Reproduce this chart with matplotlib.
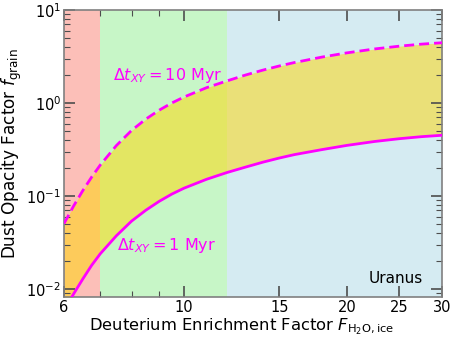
import numpy as np
import matplotlib
matplotlib.use("Agg")
from matplotlib import pyplot as plt
from matplotlib.ticker import FixedLocator, NullFormatter, LogLocator

# deuterium enrichment factor grid
F = [6.0, 6.25, 6.5, 6.75, 7.0, 7.5, 8.0, 8.5, 9.0, 9.5, 10.0, 11.0, 12.0,
     13.0, 14.0, 15.0, 16.0, 18.0, 20.0, 22.5, 25.0, 27.5, 30.0]
# f_grain
f_10myr = [0.0505, 0.078, 0.1143, 0.160, 0.215, 0.349, 0.507, 0.671, 0.838,
           1.002, 1.159, 1.459, 1.726, 2.000, 2.259, 2.500, 2.723, 3.119,
           3.459, 3.811, 4.083, 4.295, 4.446]
f_1myr = [0.00579, 0.00885, 0.01282, 0.01799, 0.02388, 0.0374, 0.0537, 0.0703,
          0.0877, 0.105, 0.1213, 0.151, 0.1786, 0.2046, 0.2312, 0.2559, 0.2786,
          0.3155, 0.3499, 0.3855, 0.4130, 0.4345, 0.4498]

# shaded F ranges
spans = [(6, 7, 'salmon'), (7, 12, 'lightgreen'), (12, 30, 'lightblue')]
xticks = [6, 10, 15, 20, 25, 30]
xminor = [7, 8, 9]

fig = plt.figure(figsize=(4.52, 3.39), dpi=100)
ax = fig.add_axes([0.1416, 0.1239, 0.8364, 0.8466])

for lo, hi, c in spans:
    ax.axvspan(lo, hi, color=c, alpha=0.5, lw=0, zorder=0)

ax.fill_between(F, f_1myr, f_10myr, color='gold', alpha=0.5, lw=0, zorder=1)
ax.plot(F, f_10myr, color='magenta', lw=2, ls='--', dashes=(3.6, 1.8), zorder=3)
ax.plot(F, f_1myr, color='magenta', lw=2, zorder=3)

ax.set_xscale('log')
ax.set_yscale('log')
ax.set_xlim(6, 30)
ax.set_ylim(0.0082, 10)

ax.xaxis.set_major_locator(FixedLocator(xticks))
ax.set_xticklabels([str(t) for t in xticks])
ax.xaxis.set_minor_locator(FixedLocator(xminor))
ax.xaxis.set_minor_formatter(NullFormatter())
ax.yaxis.set_major_locator(LogLocator(base=10))
ax.yaxis.set_minor_locator(LogLocator(base=10, subs=np.arange(2, 10)))

ax.tick_params(which='both', direction='in', top=True, right=True,
               color='0.3', labelsize=10.5, pad=2)
ax.tick_params(which='major', length=8, width=1.2)
ax.tick_params(which='minor', length=4, width=0.8)
for s in ax.spines.values():
    s.set_color('0.5')
    s.set_linewidth(1.2)

ax.text(7.39, 2.0, r'$\Delta t_{XY} = 10$ Myr', color='magenta', fontsize=11.5,
        ha='left', va='center')
ax.text(7.52, 0.029, r'$\Delta t_{XY} = 1$ Myr', color='magenta', fontsize=11.5,
        ha='left', va='center')
ax.text(0.95, 0.066, 'Uranus', transform=ax.transAxes, fontsize=11,
        ha='right', va='center')

ax.set_xlabel(r'Deuterium Enrichment Factor $F_{\rm H_2O,ice}$', fontsize=11.8)
ax.xaxis.set_label_coords(0.47, -0.068, transform=ax.transAxes)
ax.xaxis.label.set_va('top')
ax.set_ylabel(r'Dust Opacity Factor $f_{\rm grain}$', fontsize=12.2, labelpad=2)

fig.savefig('out.png', dpi=100)
